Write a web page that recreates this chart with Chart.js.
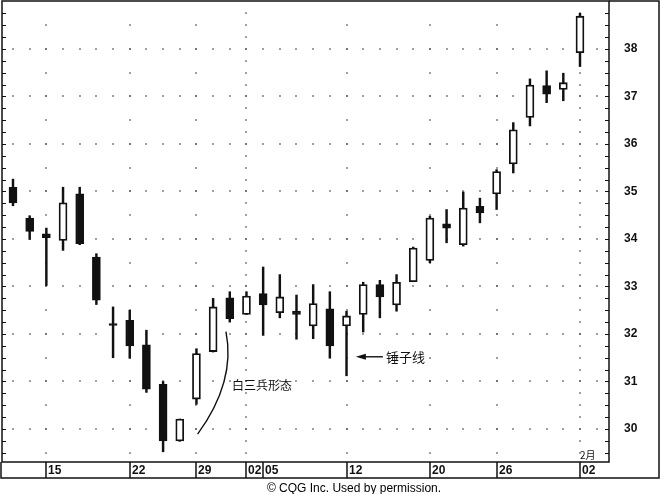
<!DOCTYPE html>
<html>
<head>
<meta charset="utf-8">
<script src="https://cdn.jsdelivr.net/npm/chart.js@4.4.1/dist/chart.umd.min.js"></script>
<style>
  body { margin: 0; background: #fff; }
  #wrap { width: 661px; height: 494px; }
</style>
</head>
<body>
<div id="wrap"><canvas id="myChart" width="661" height="494"></canvas></div>
<script>
// trading days, Dec 11 .. Feb 2
var dates = ['12-11','12-12','12-15','12-16','12-17','12-18','12-19','12-22','12-23','12-24','12-26',
  '12-29','12-30','12-31','01-02','01-05','01-06','01-07','01-08','01-09','01-12','01-13','01-14',
  '01-15','01-16','01-20','01-21','01-22','01-23','01-26','01-27','01-28','01-29','01-30','02-02']
var opens  = [35.09,34.44,34.11,33.97,34.95,33.62,32.22,32.29,31.77,30.94,29.75,30.63,31.63,32.76,32.41,
  32.85,32.45,32.48,32.17,32.53,32.17,32.41,33.04,32.61,33.10,33.55,34.32,33.88,34.69,34.95,35.58,36.56,37.23,37.15,37.92]
var highs  = [35.26,34.49,34.23,35.09,35.09,33.69,32.57,32.50,32.08,31.00,30.21,31.69,32.75,32.89,32.89,
  33.41,33.25,32.82,33.04,32.89,32.48,33.09,33.13,33.25,33.83,34.48,34.62,34.99,34.86,35.46,36.45,37.37,37.54,37.49,38.75]
var lows   = [34.70,33.99,33.02,33.76,33.88,32.62,31.50,31.49,30.77,29.52,29.74,30.52,31.62,32.25,32.41,
  31.97,32.34,31.89,31.90,31.49,31.12,32.04,32.34,32.48,33.10,33.50,33.92,33.85,34.34,34.62,35.39,36.38,36.87,36.91,37.63]
var closes = [34.76,34.16,34.03,34.76,33.90,32.71,32.18,31.75,30.84,29.75,30.21,31.59,32.57,32.32,32.80,
  32.61,32.78,32.41,32.64,31.75,32.38,33.04,32.78,33.09,33.81,34.44,34.23,34.65,34.55,35.42,36.30,37.24,37.05,37.29,38.69]

var tickIdx  = [2, 7, 11, 14, 15, 20, 25, 29, 34]
var tickText = ['15', '22', '29', '02', '05', '12', '20', '26', '02']
var weekCols = [2, 7, 11, 20, 25, 29]
var monthCols = [14, 34]
var yTicks = [30, 31, 32, 33, 34, 35, 36, 37, 38]

const INK = '#111'
const FONT = '"Liberation Sans", Arial, sans-serif'
const CJK = '"Noto Sans CJK SC", sans-serif'

const bodies = dates.map((d, i) => ({ x: i, y: [Math.min(opens[i], closes[i]), Math.max(opens[i], closes[i])] }))
const wicks = dates.map((d, i) => ({ x: i, y: [lows[i], highs[i]] }))

const chartDecor = {
    id: 'chartDecor',
    beforeDatasetsDraw(chart) {
        const { ctx, scales: { x, y } } = chart
        ctx.save()
        ctx.fillStyle = '#555'
        const dot = (i, p) => ctx.fillRect(Math.round(x.getPixelForValue(i)) - 0.75, Math.round(y.getPixelForValue(p)) - 0.75, 1.5, 1.5)
        yTicks.forEach(p => { for (let i = 0; i <= 35; i++) dot(i, p) })
        weekCols.forEach(i => { for (let p = 29.5; p <= 38.6; p += 0.5) dot(i, p) })
        monthCols.forEach(i => { for (let p = 29.5; p <= 38.9; p += 0.25) dot(i, p) })
        ctx.restore()
    },
    afterDraw(chart) {
        const { ctx, chartArea: a, scales: { x, y } } = chart
        const stripBottom = a.bottom + 16
        const outerRight = chart.width - 2
        ctx.save()
        ctx.strokeStyle = INK
        ctx.lineWidth = 1.5
        ctx.strokeRect(a.left, a.top, a.right - a.left, a.bottom - a.top)
        ctx.beginPath()
        ctx.moveTo(a.right, a.top); ctx.lineTo(outerRight, a.top)
        ctx.lineTo(outerRight, stripBottom); ctx.lineTo(1, stripBottom)
        ctx.lineTo(1, a.bottom)
        ctx.stroke()

        // small ticks on the left and right borders
        ctx.lineWidth = 1
        ctx.beginPath()
        for (let p = 29.5; p <= 38.9; p += 0.25) {
            const py = Math.round(y.getPixelForValue(p)) + 0.5
            ctx.moveTo(a.left, py); ctx.lineTo(a.left + 4, py)
            ctx.moveTo(a.right - 4, py); ctx.lineTo(a.right, py)
        }
        ctx.stroke()

        // date strip
        ctx.lineWidth = 1.5
        ctx.fillStyle = INK
        ctx.font = 'bold 12px ' + FONT
        ctx.textBaseline = 'middle'
        ctx.textAlign = 'left'
        tickIdx.forEach((i, k) => {
            const px = Math.round(x.getPixelForValue(i))
            ctx.beginPath(); ctx.moveTo(px, a.bottom); ctx.lineTo(px, stripBottom); ctx.stroke()
            ctx.fillText(tickText[k], px + 2, a.bottom + 8.5)
        })
        ctx.font = '10px ' + CJK
        ctx.fillText('2月', x.getPixelForValue(34), a.bottom - 7)

        // white three soldiers note
        ctx.lineWidth = 1.4
        ctx.beginPath()
        ctx.moveTo(x.getPixelForValue(11.07), y.getPixelForValue(29.89))
        ctx.quadraticCurveTo(x.getPixelForValue(13.37), y.getPixelForValue(31.0), x.getPixelForValue(12.77), y.getPixelForValue(32.05))
        ctx.stroke()
        ctx.font = '12px ' + CJK
        ctx.fillText('白三兵形态', x.getPixelForValue(13.13), y.getPixelForValue(30.91))

        // hammer note
        const ay = y.getPixelForValue(31.52)
        const tip = x.getPixelForValue(20.56)
        ctx.beginPath(); ctx.moveTo(tip + 6, ay); ctx.lineTo(x.getPixelForValue(22.18), ay); ctx.stroke()
        ctx.beginPath(); ctx.moveTo(tip, ay); ctx.lineTo(tip + 10, ay - 3); ctx.lineTo(tip + 10, ay + 3); ctx.closePath(); ctx.fill()
        ctx.font = '13px ' + CJK
        ctx.fillText('锤子线', x.getPixelForValue(22.36), ay)

        ctx.font = '12px ' + FONT
        ctx.textAlign = 'center'
        ctx.fillStyle = '#000'
        ctx.fillText('© CQG Inc. Used by permission.', 354, chart.height - 5)
        ctx.restore()
    }
}

var chart = new Chart(document.getElementById('myChart'), {
    type: 'bar',
    data: {
        datasets: [
            {
                label: 'body',
                data: bodies,
                order: 0,
                grouped: false,
                barThickness: 8,
                borderWidth: 1.8,
                borderColor: INK,
                borderSkipped: false,
                backgroundColor: dates.map((d, i) => closes[i] >= opens[i] ? '#fff' : INK)
            },
            {
                label: 'wick',
                data: wicks,
                order: 1,
                grouped: false,
                barThickness: 1.8,
                borderWidth: 0,
                backgroundColor: INK
            }
        ]
    },
    options: {
        responsive: false,
        animation: false,
        layout: { padding: { left: 2, top: 1, right: 0, bottom: 32 } },
        plugins: {
            legend: { display: false },
            tooltip: { enabled: false }
        },
        scales: {
            x: {
                type: 'linear',
                display: false,
                offset: false,
                min: -0.66,
                max: 35.74
            },
            y: {
                position: 'right',
                min: 29.305,
                max: 39.01,
                afterBuildTicks: s => { s.ticks = yTicks.map(v => ({ value: v })) },
                afterFit: s => { s.width = 52; s.paddingTop = 0; s.paddingBottom = 0 },
                grid: { display: false, drawTicks: false },
                border: { display: false },
                ticks: {
                    padding: 15,
                    color: INK,
                    font: { family: FONT, size: 12, weight: 'bold' }
                }
            }
        }
    },
    plugins: [chartDecor]
})
</script>
</body>
</html>
